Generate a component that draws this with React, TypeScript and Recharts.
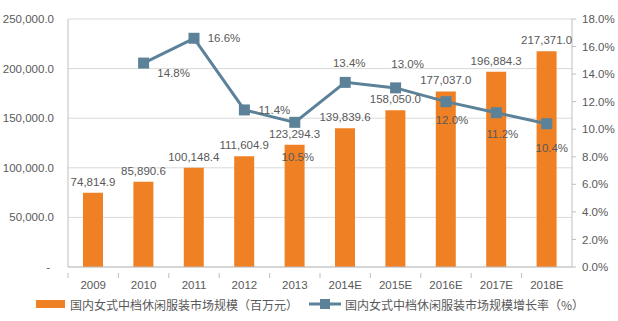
import React from "react";
import {
  ComposedChart,
  Bar,
  Line,
  XAxis,
  YAxis,
  CartesianGrid,
  Legend,
  LabelList,
} from "recharts";

const years = ["2009", "2010", "2011", "2012", "2013", "2014E", "2015E", "2016E", "2017E", "2018E"];
const marketSize = [74814.9, 85890.6, 100148.4, 111604.9, 123294.3, 139839.6, 158050.0, 177037.0, 196884.3, 217371.0];
const growthRate = [null, 14.8, 16.6, 11.4, 10.5, 13.4, 13.0, 12.0, 11.2, 10.4];
const leftTicks = [0, 50000, 100000, 150000, 200000, 250000];
const rightTicks = [0, 2, 4, 6, 8, 10, 12, 14, 16, 18];

const barName = "国内女式中档休闲服装市场规模（百万元）";
const lineName = "国内女式中档休闲服装市场规模增长率（%）";

// where each growth label sits relative to its marker
const rateLabelOffsets: [number, number][] = [
  [0, 0], [30, 10], [30, 0], [30, 0], [3, 35], [4, -19], [12, -24], [6, 18], [6, 21], [5, 24],
];

const ORANGE = "#F08024";
const BLUE = "#5B8299";
const TEXT = "#595959";
const AXIS = "#BFBFBF";
const FONT = "'Liberation Sans', Arial, sans-serif";
const CJK = "'Noto Sans CJK SC', sans-serif";

const data = years.map((year, i) => ({
  year,
  size: marketSize[i],
  rate: growthRate[i],
}));

const fmtNum = (v: number) =>
  v.toLocaleString("en-US", { minimumFractionDigits: 1, maximumFractionDigits: 1 });

function LeftTick(props: any) {
  const { x, y, payload } = props;
  const zero = payload.value === 0;
  return (
    <text
      x={zero ? x - 4 : x}
      y={y}
      dy={4}
      textAnchor="end"
      fill={TEXT}
      fontSize={11.5}
      fontFamily={FONT}
    >
      {zero ? "-" : fmtNum(payload.value)}
    </text>
  );
}

function XTick(props: any) {
  const { x, y, payload } = props;
  const band = 50.4;
  return (
    <g>
      <line x1={x - band / 2} x2={x - band / 2} y1={y - 2} y2={y + 3} stroke={AXIS} />
      <text x={x} y={y + 14} textAnchor="middle" fill={TEXT} fontSize={11.5} fontFamily={FONT}>
        {payload.value}
      </text>
    </g>
  );
}

function RateLabel(props: any) {
  const { x, y, value, index } = props;
  if (value == null) return null;
  const [dx, dy] = rateLabelOffsets[index] ?? [0, 0];
  return (
    <text
      x={x + dx}
      y={y + dy}
      dy={4}
      textAnchor="middle"
      fill={TEXT}
      fontSize={11.5}
      fontFamily={FONT}
    >
      {value.toFixed(1) + "%"}
    </text>
  );
}

function SquareDot(props: any) {
  const { cx, cy, value } = props;
  if (value == null || cx == null) return null;
  return <rect x={cx - 5.5} y={cy - 5.5} width={11} height={11} fill={BLUE} />;
}

function LegendContent() {
  return (
    <div
      style={{
        display: "flex",
        alignItems: "center",
        justifyContent: "flex-start",
        paddingLeft: 36,
        fontFamily: CJK,
        fontSize: 12,
        color: TEXT,
        height: 24,
      }}
    >
      <span style={{ display: "inline-block", width: 29, height: 8, background: ORANGE, marginRight: 5 }} />
      <span>{barName}</span>
      <svg width={32} height={12} style={{ marginLeft: 11, marginRight: 4 }}>
        <line x1={0} x2={32} y1={6} y2={6} stroke={BLUE} strokeWidth={3} />
        <rect x={11} y={1} width={10} height={10} fill={BLUE} />
      </svg>
      <span>{lineName}</span>
    </div>
  );
}

export default function App() {
  return (
    <div style={{ position: "absolute", left: 0, top: 0, width: 618, height: 321, background: "#fff" }}>
      <ComposedChart
        width={618}
        height={321}
        data={data}
        margin={{ top: 19, right: 0, bottom: 5, left: 0 }}
        barCategoryGap={0}
      >
        <CartesianGrid yAxisId="left" vertical={false} stroke="#D9D9D9" />
        <XAxis
          dataKey="year"
          height={25}
          stroke={AXIS}
          tickLine={false}
          tick={<XTick />}
          interval={0}
        />
        <YAxis
          yAxisId="left"
          orientation="left"
          width={68}
          domain={[0, 250000]}
          ticks={leftTicks}
          stroke={AXIS}
          tickLine={false}
          tick={<LeftTick />}
          tickMargin={8}
        />
        <YAxis
          yAxisId="right"
          orientation="right"
          width={46}
          domain={[0, 18]}
          ticks={rightTicks}
          stroke={AXIS}
          tickSize={4}
          tickMargin={6}
          tickFormatter={(v: number) => v.toFixed(1) + "%"}
          tick={{ fill: TEXT, fontSize: 11.5, fontFamily: FONT }}
        />
        <Legend verticalAlign="bottom" height={24} content={<LegendContent />} />
        <Bar yAxisId="left" dataKey="size" name={barName} fill={ORANGE} barSize={20} isAnimationActive={false}>
          <LabelList
            dataKey="size"
            position="top"
            offset={7}
            formatter={(v: any) => fmtNum(v)}
            style={{ fill: TEXT, fontSize: 11.5, fontFamily: FONT }}
          />
        </Bar>
        <Line
          yAxisId="right"
          dataKey="rate"
          name={lineName}
          stroke={BLUE}
          strokeWidth={3}
          dot={<SquareDot />}
          activeDot={false}
          isAnimationActive={false}
        >
          <LabelList dataKey="rate" content={<RateLabel />} />
        </Line>
      </ComposedChart>
    </div>
  );
}
